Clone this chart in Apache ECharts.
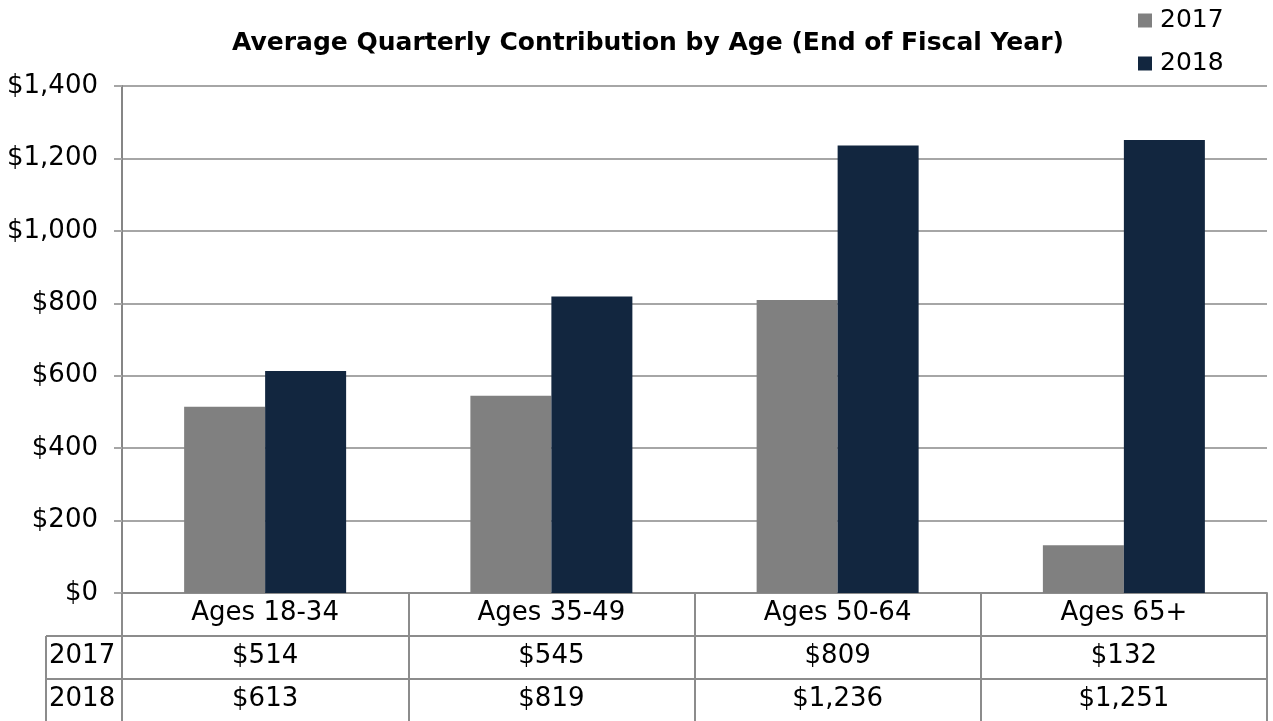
<!DOCTYPE html>
<html>
<head>
<meta charset="utf-8">
<script src="https://cdn.jsdelivr.net/npm/echarts@6/dist/echarts.min.js"></script>
<style>
  html, body { margin: 0; padding: 0; background: #fff; }
  #chart { width: 1273px; height: 721px; }
</style>
</head>
<body>
<div id="chart"></div>
<script>
const categories = ['Ages 18-34', 'Ages 35-49', 'Ages 50-64', 'Ages 65+']
const seriesNames = ['2017', '2018']
const values2017 = [514, 545, 809, 132]
const values2018 = [613, 819, 1236, 1251]
const yTicks = [0, 200, 400, 600, 800, 1000, 1200, 1400]

const FONT = 'DejaVu Sans'
const colGray = '#808080'
const colNavy = '#12263f'
const gridCol = '#a6a6a6'
const tableCol = '#8c8c8c'

// layout of plot + data table
const gridLeft = 122
const gridRight = 6
const gridTop = 86
const gridBottom = 128
const rowH = 43
const headerW = 76

const money = v => '$' + Number(v).toLocaleString('en-US')

const chart = echarts.init(document.getElementById('chart'))
const H = 721
const baseY = H - gridBottom

function tableAxis(idx, labelFn) {
  return {
    type: 'category',
    gridIndex: 0,
    position: 'bottom',
    offset: idx * rowH,
    data: categories,
    axisLine: { show: true, lineStyle: { color: tableCol, width: 2 } },
    axisTick: { show: true, interval: 0, length: rowH, lineStyle: { color: tableCol, width: 2 } },
    axisLabel: {
      interval: 0,
      margin: 7,
      color: '#000',
      fontFamily: FONT,
      fontSize: 26,
      formatter: labelFn,
    },
    splitLine: { show: false },
  }
}

const option = {
  animation: false,
  backgroundColor: '#fff',
  title: {
    text: 'Average Quarterly Contribution by Age (End of Fiscal Year)',
    left: 227,
    top: 26,
    textStyle: { fontFamily: FONT, fontSize: 25, fontWeight: 'bold', color: '#000' },
  },
  legend: {
    orient: 'vertical',
    left: 1133,
    top: 1,
    itemWidth: 14,
    itemHeight: 14,
    itemGap: 14,
    icon: 'rect',
    data: seriesNames,
    textStyle: { fontFamily: FONT, fontSize: 25, color: '#000', lineHeight: 29, padding: [0, 0, 0, 3] },
  },
  grid: { left: gridLeft, right: gridRight, top: gridTop, bottom: gridBottom, containLabel: false },
  xAxis: [
    tableAxis(0, v => v),
    tableAxis(1, (v, i) => money(values2017[i])),
    tableAxis(2, (v, i) => money(values2018[i])),
  ],
  yAxis: {
    type: 'value',
    min: yTicks[0],
    max: yTicks[yTicks.length - 1],
    interval: yTicks[1] - yTicks[0],
    axisLine: { show: true, lineStyle: { color: '#868686', width: 2 } },
    axisTick: { show: true, length: 8, lineStyle: { color: gridCol, width: 2 } },
    splitLine: { lineStyle: { color: gridCol, width: 2 } },
    axisLabel: {
      margin: 24,
      color: '#000',
      fontFamily: FONT,
      fontSize: 26,
      formatter: v => money(v),
    },
  },
  series: [
    {
      name: seriesNames[0],
      type: 'bar',
      xAxisIndex: 0,
      data: values2017,
      barWidth: 81,
      barGap: '0%',
      itemStyle: { color: colGray },
    },
    {
      name: seriesNames[1],
      type: 'bar',
      xAxisIndex: 0,
      data: values2018,
      barWidth: 81,
      barGap: '0%',
      itemStyle: { color: colNavy },
    },
  ],
  // row header column of the data table
  graphic: [
    { type: 'line', shape: { x1: gridLeft - headerW, y1: baseY + rowH, x2: gridLeft, y2: baseY + rowH }, style: { stroke: tableCol, lineWidth: 2 } },
    { type: 'line', shape: { x1: gridLeft - headerW, y1: baseY + 2 * rowH, x2: gridLeft, y2: baseY + 2 * rowH }, style: { stroke: tableCol, lineWidth: 2 } },
    { type: 'line', shape: { x1: gridLeft - headerW, y1: baseY + rowH, x2: gridLeft - headerW, y2: H }, style: { stroke: tableCol, lineWidth: 2 } },
    { type: 'text', left: gridLeft - headerW + 3, top: baseY + rowH + 7, style: { text: seriesNames[0], fontFamily: FONT, fontSize: 26, fill: '#000' } },
    { type: 'text', left: gridLeft - headerW + 3, top: baseY + 2 * rowH + 7, style: { text: seriesNames[1], fontFamily: FONT, fontSize: 26, fill: '#000' } },
  ],
}

chart.setOption(option)
</script>
</body>
</html>
